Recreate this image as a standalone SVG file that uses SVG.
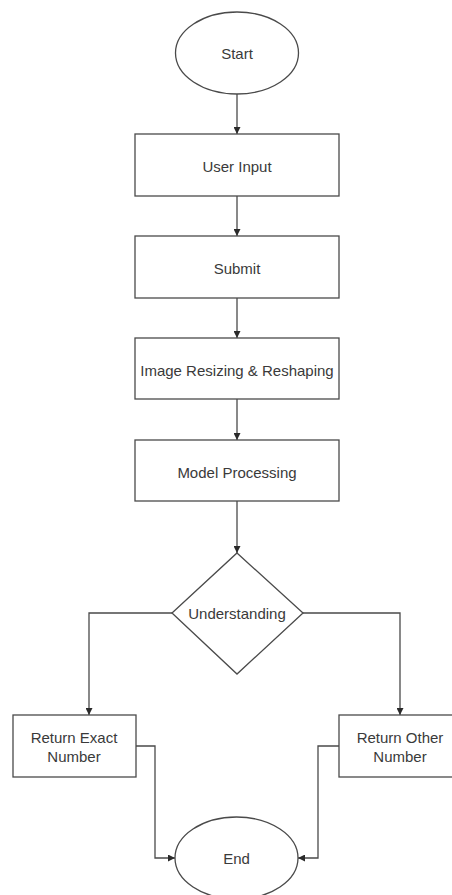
<svg xmlns="http://www.w3.org/2000/svg" width="452" height="895" viewBox="0 0 452 895">
<style>
.s{fill:#fff;stroke:#4a4a4a;stroke-width:1.3}
.t{font-family:"Liberation Sans",Arial,sans-serif;font-size:15px;fill:#3a3a3a;text-anchor:middle;dominant-baseline:central}
.c{fill:none;stroke:#4a4a4a;stroke-width:1.3}
</style>
<defs>
<marker id="a" viewBox="0 0 10 10" refX="10" refY="5" markerWidth="7" markerHeight="7" markerUnits="userSpaceOnUse" orient="auto">
<path d="M0,0 L10,5 L0,10 z" fill="#2a2a2a"/>
</marker>
</defs>
<rect width="452" height="895" fill="#fff"/>
<g id="connectors">
<path class="c" d="M237,94 V134" marker-end="url(#a)"/>
<path class="c" d="M237,196 V236" marker-end="url(#a)"/>
<path class="c" d="M237,298 V338" marker-end="url(#a)"/>
<path class="c" d="M237,399 V440" marker-end="url(#a)"/>
<path class="c" d="M237,501 V553" marker-end="url(#a)"/>
<path class="c" d="M172,613 H89 V715" marker-end="url(#a)"/>
<path class="c" d="M303,613 H400 V715" marker-end="url(#a)"/>
<path class="c" d="M136,746 H155 V858 H175" marker-end="url(#a)"/>
<path class="c" d="M339,746 H318 V858 H298" marker-end="url(#a)"/>
</g>
<g id="start">
<ellipse class="s" cx="237" cy="53" rx="61.5" ry="41"/>
<text class="t" x="237" y="53">Start</text>
</g>
<g id="user-input">
<rect class="s" x="135" y="134" width="204" height="62"/>
<text class="t" x="237" y="166">User Input</text>
</g>
<g id="submit">
<rect class="s" x="135" y="236" width="204" height="62"/>
<text class="t" x="237" y="268">Submit</text>
</g>
<g id="resize">
<rect class="s" x="135" y="338" width="204" height="61"/>
<text class="t" x="237" y="370">Image Resizing &amp; Reshaping</text>
</g>
<g id="model">
<rect class="s" x="135" y="440" width="204" height="61"/>
<text class="t" x="237" y="472">Model Processing</text>
</g>
<g id="understanding">
<path class="s" d="M237,553 L303,613 L237,674 L172,613 Z"/>
<text class="t" x="237" y="613">Understanding</text>
</g>
<g id="return-exact">
<rect class="s" x="13" y="715" width="123" height="62"/>
<text class="t" x="74" y="737">Return Exact</text>
<text class="t" x="74" y="756">Number</text>
</g>
<g id="return-other">
<rect class="s" x="339" y="715" width="123" height="62"/>
<text class="t" x="400" y="737">Return Other</text>
<text class="t" x="400" y="756">Number</text>
</g>
<g id="end">
<ellipse class="s" cx="236.5" cy="858" rx="61.5" ry="41"/>
<text class="t" x="236.5" y="858">End</text>
</g>
</svg>
